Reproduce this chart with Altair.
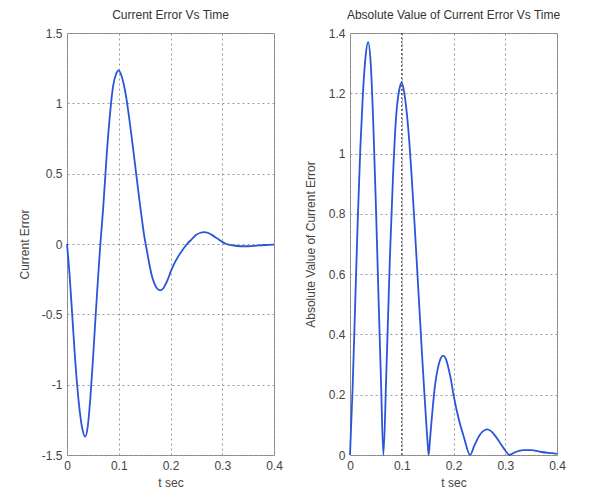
import altair as alt
import pandas as pd

# time (s) and current error
t_vals = [0.000, 0.005, 0.010, 0.015, 0.020, 0.025, 0.030, 0.035, 0.040, 0.045, 0.050,
          0.055, 0.060, 0.0645, 0.070, 0.077, 0.083, 0.089, 0.095, 0.100, 0.105, 0.110,
          0.115, 0.120, 0.125, 0.130, 0.135, 0.140, 0.145, 0.150, 0.152, 0.155, 0.160,
          0.165, 0.170, 0.175, 0.180, 0.185, 0.190, 0.195, 0.200, 0.210, 0.220, 0.232,
          0.240, 0.250, 0.258, 0.265, 0.272, 0.280, 0.290, 0.300, 0.308, 0.320, 0.335,
          0.350, 0.370, 0.390, 0.400]
err_vals = [0.00, -0.22, -0.50, -0.78, -1.02, -1.20, -1.32, -1.37, -1.30, -1.10, -0.83,
            -0.53, -0.24, 0.00, 0.26, 0.65, 0.92, 1.12, 1.21, 1.235, 1.20, 1.13,
            1.03, 0.90, 0.76, 0.61, 0.46, 0.31, 0.17, 0.04, 0.00, -0.06, -0.16,
            -0.24, -0.29, -0.32, -0.33, -0.32, -0.29, -0.25, -0.20, -0.12, -0.06, 0.00,
            0.03, 0.065, 0.08, 0.085, 0.08, 0.065, 0.04, 0.015, 0.00, -0.01, -0.016,
            -0.016, -0.01, -0.006, -0.004]

x_ticks = [0, 0.1, 0.2, 0.3, 0.4]
y1_ticks = [-1.5, -1, -0.5, 0, 0.5, 1, 1.5]
y2_ticks = [0, 0.2, 0.4, 0.6, 0.8, 1, 1.2, 1.4]

df = pd.DataFrame({"t": t_vals, "err": err_vals})

LINE = "#2a55d8"
FONT = "Liberation Sans"
LABEL_EXPR = "datum.value < 0 ? '-' + format(-datum.value, '~g') : format(datum.value, '~g')"

x_enc = alt.X("t:Q", title="t sec",
              scale=alt.Scale(domain=[0, 0.4], nice=False),
              axis=alt.Axis(values=x_ticks, format="~g"))

left = alt.Chart(df).mark_line(color=LINE, strokeWidth=1.8, interpolate="monotone").encode(
    x=x_enc,
    y=alt.Y("err:Q", title="Current Error",
            scale=alt.Scale(domain=[-1.5, 1.5], nice=False),
            axis=alt.Axis(values=y1_ticks, labelExpr=LABEL_EXPR, titlePadding=10)),
).properties(width=207, height=422, title="Current Error Vs Time")

base_r = alt.Chart(df).transform_calculate(aerr="abs(datum.err)")
right_line = base_r.mark_line(color=LINE, strokeWidth=1.8, interpolate="monotone").encode(
    x=x_enc,
    y=alt.Y("aerr:Q", title="Absolute Value of Current Error",
            scale=alt.Scale(domain=[0, 1.4], nice=False),
            axis=alt.Axis(values=y2_ticks, format="~g", titlePadding=11)),
)
mark_rule = alt.Chart(pd.DataFrame({"t": [0.1]})).mark_rule(
    color="#333", strokeDash=[2, 2], strokeWidth=1
).encode(x="t:Q")
right = alt.layer(mark_rule, right_line).properties(
    width=207, height=422, title="Absolute Value of Current Error Vs Time")

chart = alt.hconcat(left, right, spacing=20).properties(
    padding={"left": 9, "top": 0, "right": 2, "bottom": 0},
    background="white",
).configure_view(
    stroke="#888", strokeWidth=1
).configure_axis(
    grid=True, gridColor="#999", gridDash=[2, 3], gridWidth=1,
    domain=False, ticks=False,
    labelFont=FONT, labelFontSize=12, labelColor="#444", labelPadding=5,
    titleFont=FONT, titleFontSize=12, titleColor="#444", titleFontWeight="normal",
).configure_axisX(titlePadding=6, labelFlush=False).configure_axisY(labelFlush=False).configure_title(
    font=FONT, fontSize=12, fontWeight="normal", color="#333", offset=5
)

chart.save("out.html", embed_options={"renderer": "svg", "actions": False})
